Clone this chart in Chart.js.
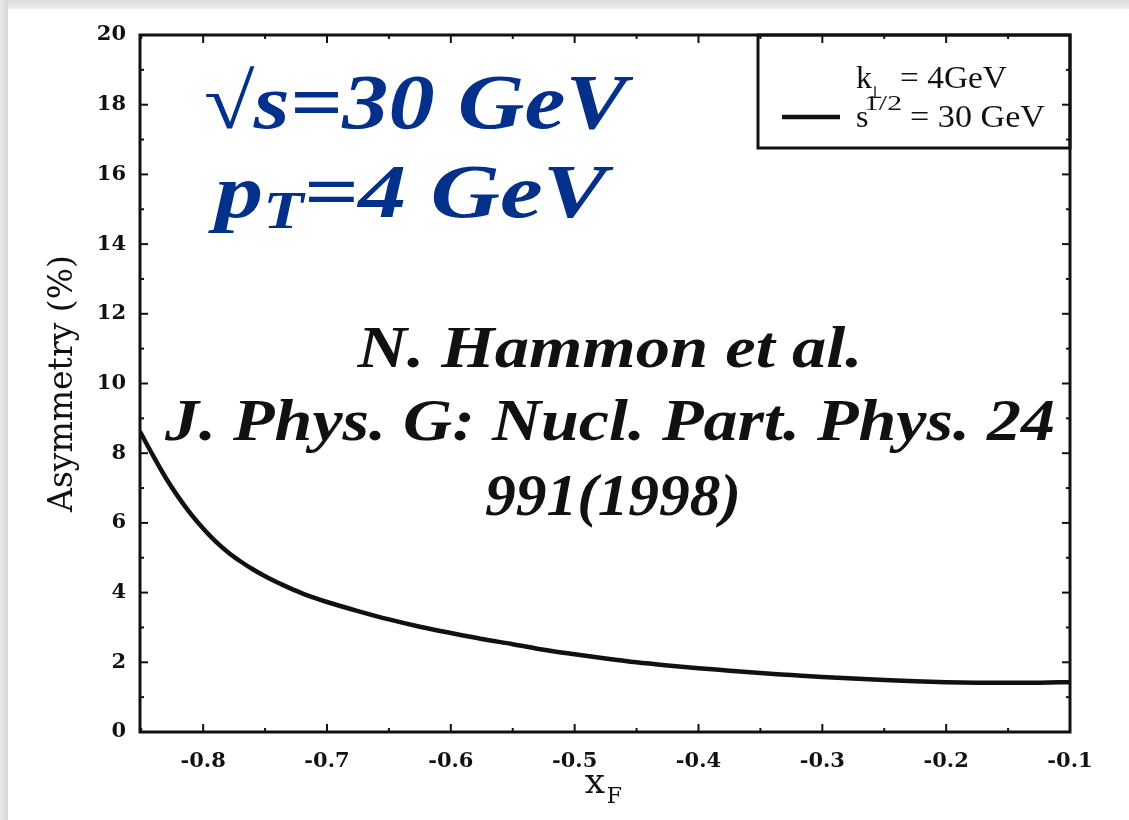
<!DOCTYPE html>
<html>
<head>
<meta charset="utf-8">
<script src="https://cdn.jsdelivr.net/npm/chart.js@4/dist/chart.umd.min.js"></script>
<style>
  html, body { margin: 0; padding: 0; background: #fff; width: 1129px; height: 820px; overflow: hidden; }
  .edge-top { position: absolute; left: 0; top: 0; width: 1129px; height: 9px; background: linear-gradient(#d9dadd, #eeeff1); }
  .edge-left { position: absolute; left: 0; top: 0; width: 8px; height: 820px; background: linear-gradient(90deg, #e9eaed, #d3d5da); }
  #wrap { position: absolute; left: 0; top: 0; width: 1129px; height: 820px; }
</style>
</head>
<body>
<div class="edge-top"></div>
<div class="edge-left"></div>
<div id="wrap"><canvas id="c" width="1129" height="820"></canvas></div>
<script>
// Feynman-x values and the computed single-spin asymmetry (%)
const xF   = [-0.851, -0.84, -0.83, -0.82, -0.81, -0.80, -0.79, -0.78, -0.77, -0.76, -0.75,
              -0.74, -0.73, -0.72, -0.71, -0.70, -0.675, -0.65, -0.625, -0.60, -0.575,
              -0.55, -0.525, -0.50, -0.475, -0.45, -0.425, -0.40, -0.375, -0.35, -0.325,
              -0.30, -0.275, -0.25, -0.225, -0.20, -0.175, -0.15, -0.125, -0.10];
const asym = [8.62, 7.90, 7.28, 6.74, 6.26, 5.84, 5.47, 5.16, 4.90, 4.67, 4.47,
              4.29, 4.13, 3.98, 3.85, 3.73, 3.47, 3.23, 3.02, 2.84, 2.67,
              2.52, 2.36, 2.23, 2.11, 2.00, 1.91, 1.83, 1.76, 1.69, 1.635,
              1.58, 1.535, 1.49, 1.455, 1.43, 1.415, 1.41, 1.415, 1.43];

// Axis ranges and tick positions
const xMin = -0.851, xMax = -0.1;
const yMin = 0, yMax = 20;
const xMajorTicks = [-0.8, -0.7, -0.6, -0.5, -0.4, -0.3, -0.2, -0.1];
const xMinorTicks = [-0.85, -0.75, -0.65, -0.55, -0.45, -0.35, -0.25, -0.15];
const yMajorTicks = [0, 2, 4, 6, 8, 10, 12, 14, 16, 18, 20];
const yMinorTicks = [1, 3, 5, 7, 9, 11, 13, 15, 17, 19];

// Text content
const yTitle = 'Asymmetry (%)';
const xTitleMain = 'x', xTitleSub = 'F';
const energyLine = '\u221As=30 GeV';
const ptMain = 'p', ptSub = 'T', ptRest = '=4 GeV';
const citation = ['N. Hammon et al.', 'J. Phys. G: Nucl. Part. Phys. 24', '991(1998)'];
const legendLine1 = ['k', '\u22A5', '= 4GeV'];
const legendLine2 = ['s', '1/2', '= 30 GeV'];

const INK = '#111';
const BLUE = '#03308a';

Chart.defaults.font.family = "'DejaVu Serif', serif";

// draw text stretched/condensed to an exact width
function fitText(ctx, text, x, y, width, font, align) {
  ctx.save();
  ctx.font = font;
  const w = ctx.measureText(text).width;
  const sx = width / w;
  const left = align === 'center' ? x - width / 2 : x;
  ctx.translate(left, y);
  ctx.scale(sx, 1);
  ctx.textAlign = 'left';
  ctx.textBaseline = 'alphabetic';
  ctx.fillText(text, 0, 0);
  ctx.restore();
}

const framePlugin = {
  id: 'frameAndNotes',
  afterDraw(chart) {
    const ctx = chart.ctx;
    const a = chart.chartArea;
    const xs = chart.scales.x, ys = chart.scales.y;
    ctx.save();

    // plot frame
    ctx.strokeStyle = INK;
    ctx.lineWidth = 3;
    ctx.strokeRect(a.left, a.top, a.right - a.left, a.bottom - a.top);

    // inward tick marks on all four sides
    ctx.lineWidth = 2;
    const tick = (x1, y1, x2, y2) => { ctx.beginPath(); ctx.moveTo(x1, y1); ctx.lineTo(x2, y2); ctx.stroke(); };
    xMajorTicks.forEach(v => { const p = xs.getPixelForValue(v); tick(p, a.bottom, p, a.bottom - 8); tick(p, a.top, p, a.top + 8); });
    xMinorTicks.forEach(v => { const p = xs.getPixelForValue(v); tick(p, a.bottom, p, a.bottom - 4); tick(p, a.top, p, a.top + 4); });
    yMajorTicks.forEach(v => { const p = ys.getPixelForValue(v); tick(a.left, p, a.left + 8, p); tick(a.right, p, a.right - 8, p); });
    yMinorTicks.forEach(v => { const p = ys.getPixelForValue(v); tick(a.left, p, a.left + 4, p); tick(a.right, p, a.right - 4, p); });

    // x-axis title with subscript
    ctx.fillStyle = INK;
    ctx.textBaseline = 'alphabetic';
    ctx.textAlign = 'left';
    ctx.font = "36px 'DejaVu Serif', serif";
    const xc = xs.getPixelForValue(-0.47);
    ctx.fillText(xTitleMain, xc - 27, 793);
    ctx.font = "22px 'DejaVu Serif', serif";
    ctx.fillText(xTitleSub, xc - 5, 803);

    // legend box
    const ds = chart.data.datasets[0];
    const lb = { l: 758, t: a.top, r: a.right, b: 148 };
    ctx.lineWidth = 3;
    ctx.strokeStyle = INK;
    ctx.strokeRect(lb.l, lb.t, lb.r - lb.l, lb.b - lb.t);
    ctx.strokeStyle = ds.borderColor;
    ctx.lineWidth = ds.borderWidth;
    tick(782, 117, 840, 117);
    ctx.fillStyle = INK;
    ctx.font = "32px 'Liberation Serif', serif";
    ctx.fillText(legendLine1[0], 856, 88);
    ctx.font = "17px 'DejaVu Serif', serif";
    ctx.fillText(legendLine1[1], 867, 98);
    fitText(ctx, legendLine1[2], 900, 88, 107, "32px 'Liberation Serif', serif", 'left');
    ctx.font = "32px 'Liberation Serif', serif";
    ctx.fillText(legendLine2[0], 856, 127);
    fitText(ctx, legendLine2[1], 864, 110, 38, "22px 'Liberation Serif', serif", 'left');
    fitText(ctx, legendLine2[2], 910, 127, 135, "32px 'Liberation Serif', serif", 'left');

    // kinematics label
    ctx.fillStyle = BLUE;
    fitText(ctx, energyLine, 203, 128, 424, "bold italic 78px 'Liberation Serif', serif", 'left');
    const fBig = "bold italic 76px 'Liberation Serif', serif";
    const fSub = "bold italic 52px 'Liberation Serif', serif";
    ctx.font = fBig; const wP = ctx.measureText(ptMain).width; const wR = ctx.measureText(ptRest).width;
    ctx.font = fSub; const wT = ctx.measureText(ptSub).width;
    const s2 = 392 / (wP + wT + wR);
    ctx.save();
    ctx.translate(215, 217);
    ctx.scale(s2, 1);
    ctx.font = fBig; ctx.fillText(ptMain, 0, 0);
    ctx.font = fSub; ctx.fillText(ptSub, wP, 11);
    ctx.font = fBig; ctx.fillText(ptRest, wP + wT, 0);
    ctx.restore();

    // reference citation
    ctx.fillStyle = INK;
    const fCite = "bold italic 60px 'Liberation Serif', serif";
    fitText(ctx, citation[0], 610, 367, 505, fCite, 'center');
    fitText(ctx, citation[1], 610, 440, 890, fCite, 'center');
    fitText(ctx, citation[2], 613, 515, 256, fCite, 'center');

    ctx.restore();
  }
};

new Chart(document.getElementById('c').getContext('2d'), {
  type: 'line',
  data: {
    datasets: [{
      label: 'k\u22A5 = 4GeV, s^1/2 = 30 GeV',
      data: xF.map((x, i) => ({ x: x, y: asym[i] })),
      borderColor: INK,
      borderWidth: 4.5,
      pointRadius: 0,
      fill: false,
      cubicInterpolationMode: 'monotone'
    }]
  },
  options: {
    responsive: false,
    animation: false,
    devicePixelRatio: 1,
    layout: { padding: { top: 35, right: 59, left: 0, bottom: 0 } },
    plugins: { legend: { display: false }, tooltip: { enabled: false } },
    scales: {
      x: {
        type: 'linear',
        min: xMin, max: xMax,
        grid: { display: false, drawTicks: false },
        border: { display: false },
        afterBuildTicks: s => { s.ticks = xMajorTicks.map(v => ({ value: v })); },
        afterFit: s => { s.height = 88; },
        ticks: {
          padding: 17, color: INK, maxRotation: 0, autoSkip: false,
          font: { family: "'DejaVu Serif', serif", size: 21, weight: 'bold' },
          callback: v => Number(v).toFixed(1)
        }
      },
      y: {
        type: 'linear',
        min: yMin, max: yMax,
        grid: { display: false, drawTicks: false },
        border: { display: false },
        afterBuildTicks: s => { s.ticks = yMajorTicks.map(v => ({ value: v })); },
        afterFit: s => { s.width = 140; },
        ticks: {
          padding: 14, color: INK, autoSkip: false,
          font: { family: "'DejaVu Serif', serif", size: 21, weight: 'bold' },
          callback: v => String(v)
        },
        title: {
          display: true, text: yTitle, color: INK,
          font: { family: "'DejaVu Serif', serif", size: 33 },
          padding: { top: 44 }
        }
      }
    }
  },
  plugins: [framePlugin]
});
</script>
</body>
</html>
